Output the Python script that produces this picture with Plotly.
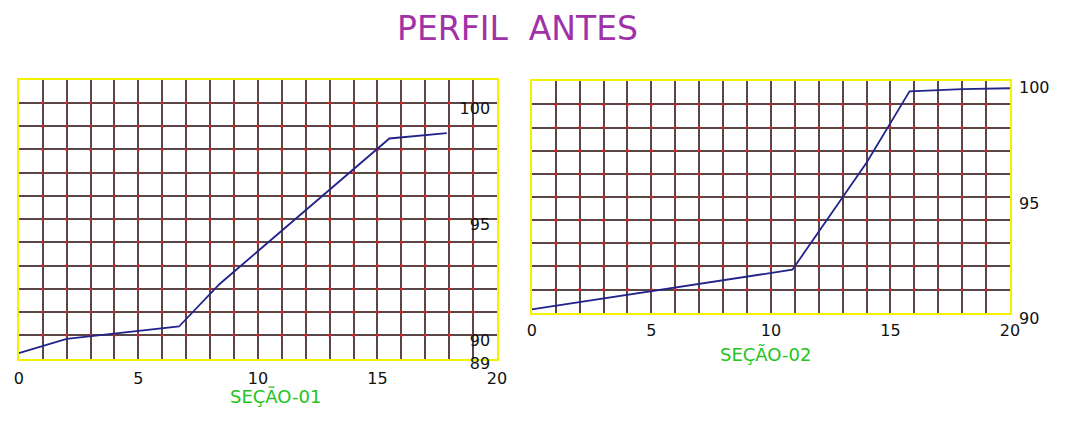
import numpy as np
import plotly.graph_objects as go

# Terrain profile, section 01 (station in m, elevation in m)
sec01_x = [0.0, 2.0, 6.7, 8.4, 15.5, 17.9]
sec01_y = [89.23, 89.85, 90.38, 92.21, 98.47, 98.70]

# Terrain profile, section 02
sec02_x = [0.0, 10.9, 14.0, 15.8, 18.0, 20.0]
sec02_y = [90.15, 91.86, 96.48, 99.57, 99.66, 99.70]

x_ticks = [0, 5, 10, 15, 20]
sec01_y_ticks = [89, 90, 95, 100]
sec02_y_ticks = [90, 95, 100]

sec01_xrange = [0, 20]
sec01_yrange = [89, 101]
sec02_xrange = [0, 20]
sec02_yrange = [90, 100]

W, H = 1067, 423
FONT = "DejaVu Sans"
GRID = "#5a4646"
FRAME = "#f2f200"
LINE = "#23238c"

fig = go.Figure()


def px_x(p):
    return p / W


def px_y(p):
    return 1 - p / H


def node_dots(xr, yr):
    gx, gy = np.meshgrid(np.arange(xr[0] + 1, xr[1]), np.arange(yr[0] + 1, yr[1]))
    return gx.ravel(), gy.ravel()


# grid node marks
for xr, yr, xa, ya in [(sec01_xrange, sec01_yrange, "x", "y"),
                       (sec02_xrange, sec02_yrange, "x2", "y2")]:
    dx, dy = node_dots(xr, yr)
    fig.add_trace(go.Scatter(x=dx, y=dy, mode="markers", xaxis=xa, yaxis=ya,
                             marker=dict(size=3, color="#e02020"),
                             hoverinfo="skip", showlegend=False))

fig.add_trace(go.Scatter(x=sec01_x, y=sec01_y, mode="lines", xaxis="x", yaxis="y",
                         line=dict(color=LINE, width=1.8), showlegend=False))
fig.add_trace(go.Scatter(x=sec02_x, y=sec02_y, mode="lines", xaxis="x2", yaxis="y2",
                         line=dict(color=LINE, width=1.8), showlegend=False))

tick_font = dict(family=FONT, size=16, color="#111111")


def x_axis(dom, rng, anchor, standoff):
    return dict(domain=dom, range=rng, anchor=anchor, tickmode="array", tickvals=x_ticks,
                showgrid=True, gridcolor=GRID, gridwidth=1.5,
                minor=dict(tick0=0, dtick=1, showgrid=True, gridcolor=GRID, gridwidth=1.5),
                showline=True, linecolor=FRAME, linewidth=2, mirror=True,
                zeroline=False, ticks="", tickfont=tick_font, fixedrange=True,
                ticklabelstandoff=standoff)


def grid_y_axis(dom, rng, anchor):
    return dict(domain=dom, range=rng, anchor=anchor, tickmode="linear", tick0=0, dtick=1,
                showticklabels=False, showgrid=True, gridcolor=GRID, gridwidth=1.5,
                showline=True, linecolor=FRAME, linewidth=2, mirror=True,
                zeroline=False, ticks="", fixedrange=True)


fig.update_layout(
    width=W, height=H,
    margin=dict(l=0, r=0, t=0, b=0),
    paper_bgcolor="white", plot_bgcolor="white",
    hovermode=False,
    xaxis=x_axis([px_x(14), px_x(499)], sec01_xrange, "y", 4),
    yaxis=grid_y_axis([px_y(372.3), px_y(80.3)], sec01_yrange, "x"),
    xaxis2=x_axis([px_x(534.3), px_x(1019.3)], sec02_xrange, "y2", 2),
    yaxis2=grid_y_axis([px_y(324.3), px_y(82)], sec02_yrange, "x2"),
    # elevation labels of section 01, drawn inside the frame near its right edge
    yaxis3=dict(overlaying="y", range=sec01_yrange, anchor="free", position=px_x(492),
                side="left", tickmode="array", tickvals=sec01_y_ticks, ticklabelshift=5,
                showgrid=False, showline=False, zeroline=False, ticks="",
                tickfont=tick_font, fixedrange=True),
    # elevation labels of section 02, outside the frame on the right
    yaxis4=dict(overlaying="y2", range=sec02_yrange, anchor="x2", side="right",
                tickmode="array", tickvals=sec02_y_ticks, ticklabelshift=6,
                ticklabelstandoff=8, showgrid=False, showline=False, zeroline=False,
                ticks="", tickfont=tick_font, fixedrange=True),
    annotations=[
        dict(text="PERFIL\u00a0\u00a0ANTES", x=px_x(520), y=px_y(27), xref="paper", yref="paper",
             xanchor="center", yanchor="middle", showarrow=False,
             font=dict(family=FONT, size=33, color="#a032a8")),
        dict(text="SEÇÃO-01", x=px_x(274), y=px_y(411.7), xref="paper", yref="paper",
             xanchor="center", yanchor="middle", showarrow=False,
             font=dict(family=FONT, size=18, color="#22c322")),
        dict(text="SEÇÃO-02", x=px_x(771.7), y=px_y(368), xref="paper", yref="paper",
             xanchor="center", yanchor="middle", showarrow=False,
             font=dict(family=FONT, size=18, color="#22c322")),
    ],
)

# the label axes need a trace each to be drawn
fig.add_trace(go.Scatter(x=[None], y=[None], xaxis="x", yaxis="y3", showlegend=False,
                         hoverinfo="skip"))
fig.add_trace(go.Scatter(x=[None], y=[None], xaxis="x2", yaxis="y4", showlegend=False,
                         hoverinfo="skip"))

fig.write_html("out.html")
